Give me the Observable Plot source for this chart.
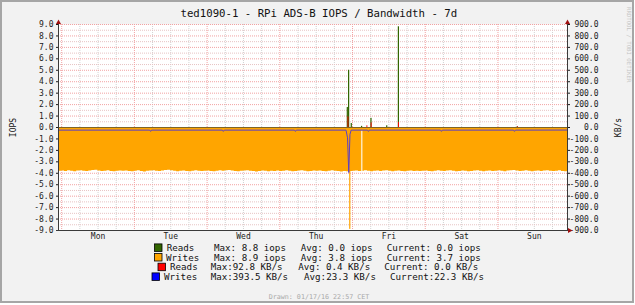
<!DOCTYPE html>
<html><head><meta charset="utf-8">
<script src="https://cdn.jsdelivr.net/npm/d3@7"></script>
<script src="https://cdn.jsdelivr.net/npm/@observablehq/plot@0.6"></script>
<style>
html,body{margin:0;padding:0;background:#fff;}
#chart{width:635px;height:305px;overflow:hidden;}
svg{display:block;}
</style></head><body><div id="chart"></div>
<script>
// ---------- data ----------
const title = "ted1090-1 - RPi ADS-B IOPS / Bandwidth - 7d";
const drawnText = "Drawn: 01/17/16 22:57 CET";
const sideText = "RRDTOOL / TOBI OETIKER";
const leftLabel = "IOPS";
const rightLabel = "KB/s";
const startTime = "2016-01-10T22:57Z";
const endTime = "2016-01-17T22:57Z";
const dayLabelTimes = ["2016-01-11T12:00Z","2016-01-12T12:00Z","2016-01-13T12:00Z","2016-01-14T12:00Z","2016-01-15T12:00Z","2016-01-16T12:00Z","2016-01-17T12:00Z"];
const yTicks = [-9,-8,-7,-6,-5,-4,-3,-2,-1,0,1,2,3,4,5,6,7,8,9];

// Writes IOPS, hourly from start (drawn downward)
const writesIopsHourly = [
3.82,3.80,3.84,3.79,3.83,3.86,3.81,3.78,3.83,3.85,3.80,3.76,3.74,3.81,3.84,3.82,3.79,3.85,3.87,3.82,3.80,3.83,3.81,3.84,
3.86,3.82,3.79,3.84,3.88,3.83,3.80,3.77,3.82,3.85,3.81,3.76,3.73,3.78,3.83,3.86,3.82,3.80,3.84,3.87,3.83,3.79,3.82,3.85,
3.83,3.80,3.84,3.86,3.82,3.79,3.83,3.78,3.75,3.80,3.84,3.87,3.83,3.81,3.78,3.82,3.85,3.88,3.84,3.80,3.83,3.86,3.82,3.84,
3.81,3.85,3.83,3.79,3.82,3.86,3.84,3.80,3.78,3.83,3.87,3.84,3.81,3.83,3.80,3.84,3.86,3.82,3.79,3.83,3.85,3.88,3.84,3.86,
3.85,3.82,3.80,3.84,3.83,3.79,3.82,3.86,3.83,3.80,3.84,3.81,3.78,3.83,3.86,3.82,3.80,3.84,3.87,3.83,3.81,3.85,3.82,3.84,
3.83,3.80,3.84,3.86,3.82,3.79,3.83,3.85,3.81,3.78,3.82,3.86,3.84,3.80,3.83,3.87,3.84,3.81,3.79,3.83,3.86,3.82,3.80,3.84,
3.82,3.79,3.83,3.86,3.81,3.78,3.76,3.80,3.84,3.82,3.79,3.83,3.86,3.82,3.80,3.84,3.81,3.78,3.82,3.85,3.83,3.79,3.84,3.86,3.70];
const writesIopsSpikeHours = [96.1];
const writesIopsSpikeValues = [8.9];
const writesIopsGapHours = [100.0];
const writesIopsGapDepth = [3.85];

// Reads IOPS bars (hour offset, value)
const readsIopsHours  = [95.29, 95.72, 96.6, 100.0, 103.1, 108.3, 112.15, 151.4];
const readsIopsValues = [1.75,  5.0,   0.35, 0.1,   0.8,   0.15,  8.8,    0.06];

// Reads KB/s bars (hour offset, value)
const readsKBsHours  = [95.55, 101.8, 103.2, 112.25, 151.5];
const readsKBsValues = [92.8,  15,    40,    45,     6];

// Writes KB/s breakpoints (hour offset, value) drawn downward
const writesKBsHours  = [0, 30.1, 30.4, 30.7, 54.1, 54.4, 54.7, 77.9, 78.2, 78.5, 94.9, 95.4, 95.8, 96.2, 96.6, 102.0, 102.3, 102.6, 126.1, 126.4, 126.7, 150.2, 150.5, 150.8, 168];
const writesKBsValues = [23,  23,   34,   23,   23,   34,   23,   23,   34,   23,   23,   90,   393.5, 60,  23,   23,    34,    23,    23,    34,    23,    23,    34,    23,    22.3];

// legend
const legendLabels = ["Reads","Writes","Reads","Writes"];
const legendColors = ["#336600","#FFA500","#FF0000","#0000FF"];
const legendMax = ["Max: 8.8 iops","Max: 8.9 iops","Max:92.8 KB/s","Max:393.5 KB/s"];
const legendAvg = ["Avg: 0.0 iops","Avg: 3.8 iops","Avg: 0.4 KB/s","Avg:23.3 KB/s"];
const legendCur = ["Current: 0.0 iops","Current: 3.7 iops","Current: 0.0 KB/s","Current:22.3 KB/s"];

// ---------- build ----------
const t0 = new Date(startTime), t1 = new Date(endTime);
const H = 3600e3;
const at = h => new Date(+t0 + h * H);
const BAR = 0.4; // bar width in hours (~1 px)

const writesArea = writesIopsHourly.map((v, i) => ({t: at(i), v: -v}));
const writesSpikes = writesIopsSpikeHours.map((h, i) => ({x1: at(h), x2: at(h + BAR), v: -writesIopsSpikeValues[i]}));
const writesGaps = writesIopsGapHours.map((h, i) => ({x1: at(h), x2: at(h + 0.5), v: -writesIopsGapDepth[i]}));
const readsIops = readsIopsHours.map((h, i) => ({x1: at(h), x2: at(h + BAR), v: readsIopsValues[i]}));
const readsKBs = readsKBsHours.map((h, i) => ({x1: at(h), x2: at(h + 0.3), v: readsKBsValues[i] / 100}));
const writesKBs = writesKBsHours.map((h, i) => ({t: at(h), v: -writesKBsValues[i] / 100}));

const minor6h = d3.utcHour.every(6).range(t0, t1).filter(d => d.getUTCHours() !== 0);
const days = d3.utcDay.range(t0, t1);
const hMinor = yTicks.slice(0, -1).map(v => v + 0.5);

const mono = "'DejaVu Sans Mono', monospace";

const plot = Plot.plot({
  width: 635, height: 305,
  marginLeft: 58, marginRight: 68, marginTop: 24, marginBottom: 75,
  style: {fontFamily: mono, fontSize: "8px", color: "#1a1a1a", background: "transparent", overflow: "visible"},
  x: {type: "utc", domain: [t0, t1], label: null},
  y: {domain: [-9, 9], label: null},
  marks: [
    Plot.frame({fill: "#ffffff", stroke: null}),
    Plot.ruleX(minor6h, {stroke: "#d2d2d2", strokeDasharray: "1,1"}),
    Plot.ruleY(hMinor, {stroke: "#e7c3c3", strokeDasharray: "1,1"}),
    Plot.ruleY(yTicks, {stroke: "#f2a2a2", strokeDasharray: "1,1"}),
    Plot.ruleX(days, {stroke: "#f2a2a2", strokeDasharray: "1,1"}),
    Plot.areaY(writesArea, {x: "t", y1: 0, y2: "v", curve: "step-after", fill: "#FFA500"}),
    Plot.rectY(writesSpikes, {x1: "x1", x2: "x2", y1: 0, y2: "v", fill: "#FFA500"}),
    Plot.rectY(writesGaps, {x1: "x1", x2: "x2", y1: -0.3, y2: "v", fill: "#ffe6b5"}),
    Plot.ruleY([0], {stroke: "#7d6328", strokeWidth: 1}),
    Plot.rectY(readsIops, {x1: "x1", x2: "x2", y1: 0, y2: "v", fill: "#336600"}),
    Plot.rectY(readsKBs, {x1: "x1", x2: "x2", y1: 0, y2: "v", fill: "#FF0000"}),
    Plot.line(writesKBs, {x: "t", y: "v", stroke: "#5b3fc4", strokeWidth: 1}),
    Plot.axisY(yTicks, {anchor: "left", tickSize: 2, tickPadding: 3, tickFormat: d => d.toFixed(1), label: null}),
    Plot.axisY(yTicks, {anchor: "right", tickSize: 2, tickPadding: 29, textAnchor: "end", tickFormat: d => (d * 100).toFixed(1), label: null}),
    Plot.axisX(dayLabelTimes.map(d => new Date(d)), {anchor: "bottom", tickSize: 0, tickPadding: 3, tickFormat: d3.utcFormat("%a"), label: null})
  ]
});

const svg = d3.select(plot);
// background & border
svg.insert("rect", ":first-child").attr("x", 1).attr("y", 1).attr("width", 632).attr("height", 301)
  .attr("fill", "#f2f2f2").attr("stroke", "#a6a6a6").attr("stroke-width", 2);

// axis lines & arrows
const g = svg.append("g");
const axisCol = "#3a3a3a", arrowCol = "#a01010";
g.append("line").attr("x1", 58.5).attr("x2", 58.5).attr("y1", 231).attr("y2", 22).attr("stroke", axisCol);
g.append("line").attr("x1", 567.5).attr("x2", 567.5).attr("y1", 231).attr("y2", 22).attr("stroke", axisCol);
g.append("line").attr("x1", 56).attr("x2", 569).attr("y1", 230.5).attr("y2", 230.5).attr("stroke", axisCol);
g.append("path").attr("d", "M58.5,19.5 L56,24 L61,24 Z").attr("fill", arrowCol);
g.append("path").attr("d", "M567.5,19.5 L565,24 L570,24 Z").attr("fill", arrowCol);
g.append("path").attr("d", "M572.5,230.5 L568,228 L568,233 Z").attr("fill", arrowCol);

// title
svg.append("text").attr("x", 318.8).attr("y", 16.7).attr("text-anchor", "middle")
  .attr("font-family", mono).attr("font-size", 10.7).attr("fill", "#111").text(title);
// axis titles
svg.append("text").attr("transform", "translate(15.5,127.5) rotate(-90)").attr("text-anchor", "middle")
  .attr("font-family", mono).attr("font-size", 8).attr("fill", "#111").text(leftLabel);
svg.append("text").attr("transform", "translate(620.5,127.5) rotate(-90)").attr("text-anchor", "middle")
  .attr("font-family", mono).attr("font-size", 8).attr("fill", "#111").text(rightLabel);
// side watermark
svg.append("text").attr("transform", "translate(626.5,7) rotate(90)").attr("text-anchor", "start")
  .attr("font-family", mono).attr("font-size", 5.7).attr("fill", "#c4c4c4").text(sideText);

// legend
const swatchX = [154.5, 154.5, 158, 152];
const labelX = [166.7, 166, 170, 164];
const maxX = [214, 214, 210.7, 210.7];
const avgX = [300.7, 300.7, 298.3, 304];
const curX = [386.7, 386.7, 384.3, 390];
const rowY = [247.7, 257.3, 267, 276.7];
const lg = svg.append("g").attr("font-family", mono).attr("font-size", 9.2).attr("fill", "#111").attr("text-anchor", "start");
legendLabels.forEach((lab, i) => {
  const cy = rowY[i];
  lg.append("rect").attr("x", swatchX[i]).attr("y", cy - 3.8).attr("width", 7.5).attr("height", 7.5)
    .attr("fill", legendColors[i]).attr("stroke", "#000").attr("stroke-width", 0.8);
  const by = cy + 3.3;
  lg.append("text").attr("x", labelX[i]).attr("y", by).attr("text-anchor", "start").text(lab);
  lg.append("text").attr("x", maxX[i]).attr("y", by).attr("text-anchor", "start").text(legendMax[i]);
  lg.append("text").attr("x", avgX[i]).attr("y", by).attr("text-anchor", "start").text(legendAvg[i]);
  lg.append("text").attr("x", curX[i]).attr("y", by).attr("text-anchor", "start").text(legendCur[i]);
});
svg.append("text").attr("x", 319).attr("y", 298.5).attr("text-anchor", "middle")
  .attr("font-family", mono).attr("font-size", 6.7).attr("fill", "#a8a8a8").text(drawnText);

document.getElementById("chart").appendChild(plot);
</script>
</body></html>
